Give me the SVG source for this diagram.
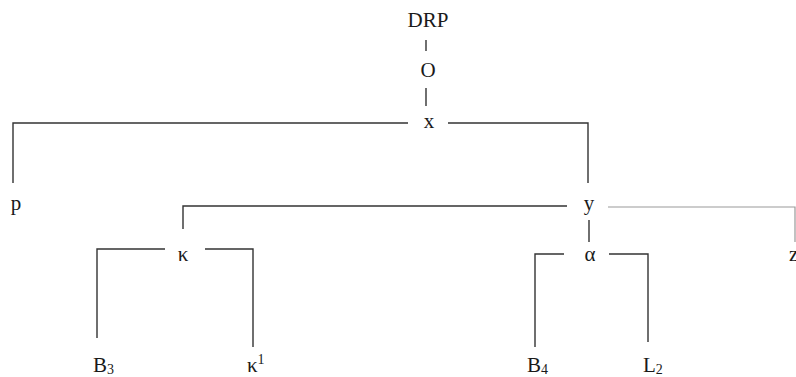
<svg xmlns="http://www.w3.org/2000/svg" width="796" height="377" viewBox="0 0 796 377">
<style>
.t{font-family:"Liberation Serif","Times New Roman",serif;font-size:21px;fill:#1a1a1a}
.s{font-size:14px}
.c{fill:none;stroke:#333;stroke-width:1.4}
.g{fill:none;stroke:#999;stroke-width:1.2}
</style>
<rect width="796" height="377" fill="#fff"/>
<g id="connectors">
<path class="c" d="M426,40V51"/>
<path class="c" d="M426,88V106"/>
<path class="c" d="M408,123H13V183"/>
<path class="c" d="M448,123H588V183"/>
<path class="c" d="M567,206H183V229"/>
<path class="g" d="M608,207H795V242"/>
<path class="c" d="M589,220V242"/>
<path class="c" d="M165,249H97V338"/>
<path class="c" d="M205,249H253V347"/>
<path class="c" d="M564,254H535V347"/>
<path class="c" d="M609,254H648V342"/>
</g>
<g id="n-DRP"><text class="t" x="428" y="27" text-anchor="middle">DRP</text></g>
<g id="n-O"><text class="t" x="428" y="77" text-anchor="middle">O</text></g>
<g id="n-x"><text class="t" x="429" y="128" text-anchor="middle">x</text></g>
<g id="n-p"><text class="t" x="16" y="210" text-anchor="middle">p</text></g>
<g id="n-y"><text class="t" x="589" y="210" text-anchor="middle">y</text></g>
<g id="n-kappa"><text class="t" x="183" y="261" text-anchor="middle">κ</text></g>
<g id="n-alpha"><text class="t" x="590" y="261" text-anchor="middle">α</text></g>
<g id="n-z"><text class="t" x="789" y="261">z</text></g>
<g id="n-B3"><text class="t" x="93" y="372">B<tspan class="s" dy="2">3</tspan></text></g>
<g id="n-kappa1"><text class="t" x="247" y="372">κ<tspan class="s" dy="-8">1</tspan></text></g>
<g id="n-B4"><text class="t" x="527" y="372">B<tspan class="s" dy="2">4</tspan></text></g>
<g id="n-L2"><text class="t" x="643" y="372">L<tspan class="s" dy="2">2</tspan></text></g>
</svg>
